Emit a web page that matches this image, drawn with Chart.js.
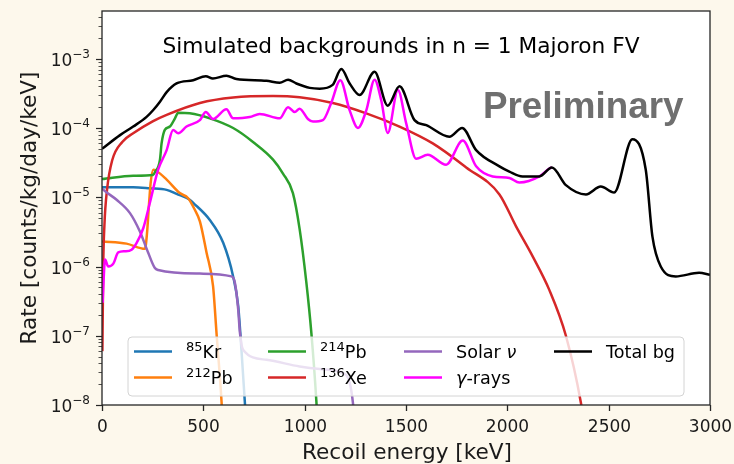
<!DOCTYPE html>
<html lang="en">
<head>
  <meta charset="UTF-8">
  <title>Simulated backgrounds</title>
  <script src="https://cdn.jsdelivr.net/npm/chart.js"></script>
  <style>
    html,body{margin:0;padding:0;background:#fdf8ec;}
    .chartBox{width:734px;height:464px;}
  </style>
</head>
<body>
  <div class="chartBox">
    <canvas id="myChart" width="734" height="464"></canvas>
  </div>
  <script>
    // data (energy in keV, rate in counts/kg/day/keV)
    const kr85Energy = [0, 6, 154, 236, 319, 368, 433, 450, 532, 598, 647, 672, 688, 705, 715];
    const kr85Rate = [1.4e-5, 1.4e-5, 1.4e-5, 1.35e-5, 1.28e-5, 1.12e-5, 9.2e-6, 8.3e-6, 4.7e-6, 2.2e-6, 7.2e-7, 2.7e-7, 6.3e-8, 1.08e-8, 3e-9];

    const pb212Energy = [0, 121, 212, 222, 232, 240, 253, 269, 319, 384, 425, 458, 483, 516, 548, 565, 590, 600];
    const pb212Rate = [2.3e-6, 2.14e-6, 1.8e-6, 3e-6, 8e-6, 1.6e-5, 2.5e-5, 2.4e-5, 1.8e-5, 1.15e-5, 9.7e-6, 6.6e-6, 4.5e-6, 1.58e-6, 5.2e-7, 1.1e-7, 1.1e-8, 3e-9];

    const pb214Energy = [0, 154, 252, 261, 286, 294, 310, 335, 360, 376, 433, 532, 647, 745, 844, 893, 942, 975, 1008, 1033, 1058, 1068];
    const pb214Rate = [1.83e-5, 2.05e-5, 2.1e-5, 2.3e-5, 3.5e-5, 6e-5, 9.4e-5, 1.05e-4, 1.38e-4, 1.66e-4, 1.63e-4, 1.38e-4, 1e-4, 6.3e-5, 3.5e-5, 2.2e-5, 1.15e-5, 3.5e-6, 6e-7, 1.1e-7, 1.1e-8, 3e-9];

    const xe136Energy = [2, 6, 12, 25, 50, 100, 154, 250, 319, 483, 647, 844, 975, 1139, 1304, 1468, 1632, 1797, 1961, 2043, 2125, 2207, 2289, 2363, 2380];
    const xe136Rate = [6e-8, 1e-6, 4e-6, 1.3e-5, 3.4e-5, 6.3e-5, 8.4e-5, 1.25e-4, 1.55e-4, 2.3e-4, 2.76e-4, 2.9e-4, 2.78e-4, 2.3e-4, 1.63e-4, 1.05e-4, 6e-5, 2.7e-5, 1.1e-5, 3.8e-6, 1.4e-6, 4.6e-7, 1e-7, 1.08e-8, 5e-9];

    const solarEnergy = [0, 6, 72, 138, 187, 228, 261, 277, 483, 639, 656, 672, 680, 696, 811, 975, 1074, 1189, 1222, 1238, 1250];
    const solarRate = [1.35e-5, 1.29e-5, 9.2e-6, 5.9e-6, 3.2e-6, 1.58e-6, 9.5e-7, 8.9e-7, 7.9e-7, 7.2e-7, 5.8e-7, 2.4e-7, 1.15e-7, 6.3e-8, 4.5e-8, 3.6e-8, 3.3e-8, 2.9e-8, 2.1e-8, 1.08e-8, 4e-9];

    const gammaEnergy = [3, 8, 15, 31, 56, 80, 113, 146, 171, 204, 236, 277, 319, 351, 376, 417, 483, 512, 548, 614, 647, 729, 778, 877, 918, 951, 975, 1016, 1041, 1090, 1131, 1176, 1222, 1263, 1304, 1345, 1378, 1410, 1460, 1501, 1550, 1607, 1698, 1780, 1846, 1928, 2010, 2059, 2158, 2207, 2220];
    const gammaRate = [3e-7, 6.5e-7, 1.26e-6, 1.0e-6, 1.1e-6, 1.6e-6, 1.66e-6, 1.75e-6, 2.2e-6, 3.6e-6, 8.3e-6, 2.5e-5, 4.8e-5, 9.4e-5, 8.4e-5, 1.05e-4, 1.3e-4, 1.7e-4, 1.35e-4, 1.86e-4, 1.38e-4, 1.44e-4, 1.6e-4, 1.38e-4, 2.0e-4, 1.7e-4, 1.9e-4, 1.35e-4, 1.24e-4, 1.3e-4, 2.3e-4, 4.9e-4, 1.8e-4, 1.0e-4, 1.8e-4, 5.0e-4, 2.5e-4, 8.5e-5, 3.55e-4, 1.17e-4, 3.6e-5, 4.1e-5, 2.95e-5, 6.6e-5, 2.8e-5, 2.0e-5, 1.9e-5, 1.63e-5, 2.0e-5, 2.6e-5, 2.7e-5];

    const totalEnergy = [0, 89, 154, 220, 253, 286, 319, 368, 450, 512, 547, 614, 663, 811, 877, 918, 959, 1025, 1074, 1138, 1181, 1222, 1271, 1345, 1410, 1468, 1542, 1600, 1714, 1777, 1846, 1961, 2010, 2075, 2158, 2220, 2289, 2388, 2461, 2527, 2617, 2683, 2716, 2757, 2831, 2946, 3000];
    const totalRate = [5e-5, 7.9e-5, 1.05e-4, 1.45e-4, 1.82e-4, 2.4e-4, 3.3e-4, 4.4e-4, 4.9e-4, 5.6e-4, 5.2e-4, 5.7e-4, 5.1e-4, 4.8e-4, 4.5e-4, 5.0e-4, 4.4e-4, 3.8e-4, 3.7e-4, 4.2e-4, 7.1e-4, 4.4e-4, 3.0e-4, 6.5e-4, 2.1e-4, 4.0e-4, 1.3e-4, 1.1e-4, 7.5e-5, 1.0e-4, 4.8e-5, 2.8e-5, 2.35e-5, 2.0e-5, 2.0e-5, 2.7e-5, 1.5e-5, 1.1e-5, 1.43e-5, 1.17e-5, 6.9e-5, 2.5e-5, 2.7e-6, 1.0e-6, 7.2e-7, 8.1e-7, 7.6e-7];

    const energyTicks = [0, 500, 1000, 1500, 2000, 2500, 3000];
    const rateExponents = [-8, -7, -6, -5, -4, -3];

    // legend labels: [text, style] n=normal, s=superscript, i=italic
    const seriesLabels = [
      [['85', 's'], ['Kr', 'n']],
      [['212', 's'], ['Pb', 'n']],
      [['214', 's'], ['Pb', 'n']],
      [['136', 's'], ['Xe', 'n']],
      [['Solar ', 'n'], ['ν', 'i']],
      [['γ', 'i'], ['-rays', 'n']],
      [['Total bg', 'n']]
    ];
    const seriesColors = ['#1f77b4', '#ff7f0e', '#2ca02c', '#d62728', '#9467bd', '#ff00ff', '#000000'];
    const seriesData = [
      [kr85Energy, kr85Rate], [pb212Energy, pb212Rate], [pb214Energy, pb214Rate],
      [xe136Energy, xe136Rate], [solarEnergy, solarRate], [gammaEnergy, gammaRate],
      [totalEnergy, totalRate]
    ];

    const FONT = '"DejaVu Sans", sans-serif';

    function drawRich(ctx, parts, x, y, size){
      parts.forEach(([t, s]) => {
        if (s === 's') {
          ctx.font = Math.round(size * 0.72) + 'px ' + FONT;
          ctx.fillText(t, x, y - size * 0.42);
        } else {
          ctx.font = (s === 'i' ? 'italic ' : '') + size + 'px ' + FONT;
          ctx.fillText(t, x, y);
        }
        x += ctx.measureText(t).width;
      });
    }

    const decor = {
      id: 'decor',
      beforeDraw(chart){
        const { ctx, chartArea: { left, top, width, height } } = chart;
        ctx.save();
        ctx.fillStyle = '#fdf8ec';
        ctx.fillRect(0, 0, chart.width, chart.height);
        ctx.fillStyle = '#ffffff';
        ctx.fillRect(left, top, width, height);
        ctx.restore();
      },
      afterDatasetsDraw(chart){
        const { ctx } = chart;
        ctx.save();
        // text inside plot
        ctx.fillStyle = '#000';
        ctx.textBaseline = 'alphabetic';
        ctx.textAlign = 'center';
        ctx.font = '21.7px ' + FONT;
        ctx.fillText('Simulated backgrounds in n = 1 Majoron FV', 401, 53);
        ctx.fillStyle = '#6f6f6f';
        ctx.font = 'bold 36.8px "Liberation Sans", Arial, sans-serif';
        ctx.textAlign = 'left';
        ctx.fillText('Preliminary', 483, 118);

        // legend box
        const bx = 128, by = 337, bw = 556, bh = 59, r = 4;
        ctx.beginPath();
        ctx.roundRect(bx, by, bw, bh, r);
        ctx.fillStyle = 'rgba(255,255,255,0.8)';
        ctx.fill();
        ctx.strokeStyle = '#d4d4d4';
        ctx.lineWidth = 1;
        ctx.stroke();
        const colX = [134, 268, 404, 554];
        const rowY = [358, 384];
        chart.data.datasets.forEach((ds, i) => {
          const cx = colX[Math.floor(i / 2)], cy = rowY[i % 2];
          ctx.strokeStyle = ds.borderColor;
          ctx.lineWidth = 2.5;
          ctx.beginPath();
          ctx.moveTo(cx, cy - 6.5);
          ctx.lineTo(cx + 38, cy - 6.5);
          ctx.stroke();
          ctx.fillStyle = '#000';
          drawRich(ctx, seriesLabels[i], cx + 52, cy, 17.6);
        });
        ctx.restore();
      },
      afterDraw(chart){
        const { ctx, chartArea: { left, right, top, bottom }, scales: { x, y } } = chart;
        ctx.save();
        ctx.strokeStyle = '#262626';
        ctx.lineWidth = 1.3;
        ctx.strokeRect(left, top, right - left, bottom - top);
        ctx.fillStyle = '#1a1a1a';
        // x ticks
        ctx.font = '17px ' + FONT;
        ctx.textAlign = 'center';
        ctx.textBaseline = 'top';
        energyTicks.forEach(v => {
          const px = Math.round(x.getPixelForValue(v)) + 0.5;
          ctx.beginPath(); ctx.moveTo(px, bottom); ctx.lineTo(px, bottom + 6); ctx.stroke();
          ctx.fillText(String(v), px, bottom + 14);
        });
        // y ticks: majors and minors
        for (let e = -9; e <= -3; e++){
          for (let m = 1; m <= 9; m++){
            const v = m * Math.pow(10, e);
            if (v < y.min || v > y.max) continue;
            const py = Math.round(y.getPixelForValue(v)) + 0.5;
            const len = m === 1 ? 6 : 3.5;
            ctx.lineWidth = m === 1 ? 1.2 : 0.8;
            ctx.beginPath(); ctx.moveTo(left, py); ctx.lineTo(left - len, py); ctx.stroke();
          }
        }
        ctx.textBaseline = 'alphabetic';
        rateExponents.forEach(e => {
          const py = y.getPixelForValue(Math.pow(10, e));
          ctx.font = '12px ' + FONT;
          const sup = '−' + String(-e);
          const sw = ctx.measureText(sup).width;
          ctx.textAlign = 'left';
          ctx.fillText(sup, left - 12 - sw, py - 1);
          ctx.font = '17px ' + FONT;
          ctx.textAlign = 'right';
          ctx.fillText('10', left - 12 - sw, py + 7);
        });
        // axis titles
        ctx.font = '21.6px ' + FONT;
        ctx.textAlign = 'center';
        ctx.fillText('Recoil energy [keV]', (left + right) / 2 + 1, 459);
        ctx.translate(36, (top + bottom) / 2);
        ctx.rotate(-Math.PI / 2);
        ctx.fillText('Rate [counts/kg/day/keV]', 0, 0);
        ctx.restore();
      }
    };

    const data = {
      datasets: seriesData.map(([ex, ry], i) => ({
        label: seriesLabels[i].map(p => p[0]).join(''),
        data: ex.map((v, k) => ({ x: v, y: ry[k] })),
        borderColor: seriesColors[i],
        backgroundColor: seriesColors[i],
        borderWidth: 2.5,
        pointRadius: 0,
        cubicInterpolationMode: 'monotone',
        order: seriesData.length - i
      }))
    };

    const config = {
      type: 'line',
      data,
      options: {
        responsive: false,
        animation: false,
        devicePixelRatio: 1,
        layout: { padding: { top: 11, right: 24, left: 0, bottom: 0 } },
        scales: {
          x: {
            type: 'linear', min: 0, max: 3000,
            grid: { display: false }, border: { display: false },
            ticks: { display: false },
            afterFit: s => { s.height = 59; }
          },
          y: {
            type: 'logarithmic', min: 1e-8, max: 4.9e-3,
            grid: { display: false }, border: { display: false },
            ticks: { display: false },
            afterFit: s => { s.width = 102; }
          }
        },
        plugins: { legend: { display: false }, tooltip: { enabled: false } }
      },
      plugins: [decor]
    };

    const myChart = new Chart(document.getElementById('myChart'), config);
  </script>
</body>
</html>
